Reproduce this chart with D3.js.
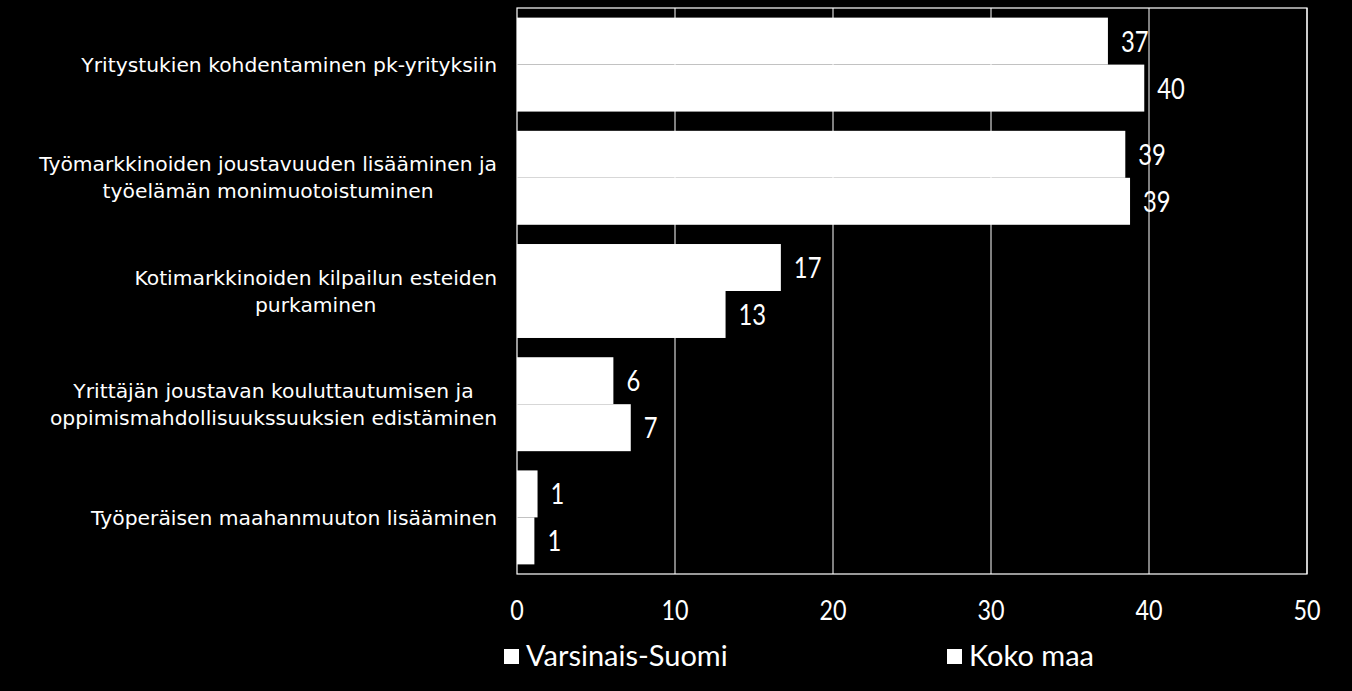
<!DOCTYPE html>
<html>
<head>
<meta charset="utf-8">
<script src="https://cdn.jsdelivr.net/npm/d3@7"></script>
<style>
  body { margin: 0; background: #000; }
  svg { display: block; }
</style>
</head>
<body>
<div id="chart"></div>
<script>
var categories = [
  ['Yritystukien kohdentaminen pk-yrityksiin'],
  ['Työmarkkinoiden joustavuuden lisääminen ja', 'työelämän monimuotoistuminen'],
  ['Kotimarkkinoiden kilpailun esteiden', 'purkaminen'],
  ['Yrittäjän joustavan kouluttautumisen ja', 'oppimismahdollisuukssuuksien edistäminen'],
  ['Työperäisen maahanmuuton lisääminen']
]
var seriesNames = ['Varsinais-Suomi', 'Koko maa']
var varsinaisSuomi = [37.4, 38.5, 16.7, 6.1, 1.3]
var kokoMaa = [39.7, 38.8, 13.2, 7.2, 1.1]
var ticks = [0, 10, 20, 30, 40, 50]

var width = 1352
var height = 691
var margin = { top: 8, left: 517, right: 45, bottom: 117 }
var innerW = width - margin.left - margin.right
var innerH = height - margin.top - margin.bottom

var svg = d3
  .select('#chart')
  .append('svg')
  .attr('width', width)
  .attr('height', height)
  .style('background', '#000')

var g = svg
  .append('g')
  .attr('transform', 'translate(' + margin.left + ',' + margin.top + ')')

var x = d3.scaleLinear().domain([0, 50]).range([0, innerW])

var y = d3
  .scaleBand()
  .domain(d3.range(categories.length))
  .range([0, innerH])
  .paddingInner(0.17)
  .paddingOuter(0.085)

var inner = d3
  .scaleBand()
  .domain([0, 1])
  .range([0, y.bandwidth()])

// gridlines
g.selectAll('.grid')
  .data(ticks.slice(1))
  .enter()
  .append('line')
  .attr('class', 'grid')
  .attr('x1', d => x(d))
  .attr('x2', d => x(d))
  .attr('y1', 0)
  .attr('y2', innerH)
  .attr('stroke', '#fff')
  .attr('stroke-width', 1)

g.append('rect')
  .attr('x', 0)
  .attr('y', 0)
  .attr('width', innerW)
  .attr('height', innerH)
  .attr('fill', 'none')
  .attr('stroke', '#fff')
  .attr('stroke-width', 1.2)

var series = [varsinaisSuomi, kokoMaa]
var numFont = "Lato, 'Open Sans', sans-serif"

// condensed-looking text: scale horizontally around the anchor point
function narrowText(sel, px, py, k) {
  return sel.attr('transform', function(d, i) {
    return 'translate(' + px(d, i) + ',' + py(d, i) + ') scale(' + k + ',1)'
  })
}

series.forEach(function(values, s) {
  g.selectAll('.bar-' + s)
    .data(values)
    .enter()
    .append('rect')
    .attr('class', 'bar-' + s)
    .attr('x', 0)
    .attr('y', (d, i) => y(i) + inner(s))
    .attr('width', d => x(d))
    .attr('height', inner.bandwidth())
    .attr('fill', '#fff')

  g.selectAll('.val-' + s)
    .data(values)
    .enter()
    .append('text')
    .attr('class', 'val-' + s)
    .call(narrowText, d => x(d) + 13, (d, i) => y(i) + inner(s) + inner.bandwidth() / 2, 0.82)
    .attr('dy', '0.36em')
    .attr('fill', '#fff')
    .attr('font-family', numFont)
    .attr('font-size', 29)
    .text(d => Math.round(d))
})

// x axis tick labels
g.selectAll('.tick-label')
  .data(ticks)
  .enter()
  .append('text')
  .attr('class', 'tick-label')
  .call(narrowText, d => x(d), () => innerH + 46, 0.88)
  .attr('text-anchor', 'middle')
  .attr('fill', '#fff')
  .attr('font-family', numFont)
  .attr('font-size', 26.5)
  .text(d => d)

// category labels, block right aligned, lines centred
var catRight = 497
var lineH = 27
categories.forEach(function(lines, i) {
  var t = svg
    .append('text')
    .attr('fill', '#fff')
    .attr('font-family', "'DejaVu Sans', sans-serif")
    .attr('font-size', 20.3)
    .attr('text-anchor', 'middle')
  var cy = margin.top + y(i) + y.bandwidth() / 2
  var spans = lines.map(function(line, k) {
    return t
      .append('tspan')
      .attr('y', cy + (k - (lines.length - 1) / 2) * lineH)
      .attr('dy', '0.35em')
      .text(line)
  })
  var maxW = d3.max(spans, sp => sp.node().getComputedTextLength())
  spans.forEach(sp => sp.attr('x', catRight - maxW / 2))
})

// legend
var legendX = [504, 947]
seriesNames.forEach(function(name, i) {
  svg
    .append('rect')
    .attr('x', legendX[i])
    .attr('y', 649)
    .attr('width', 15)
    .attr('height', 15)
    .attr('fill', '#fff')
  svg
    .append('text')
    .datum(name)
    .call(narrowText, () => legendX[i] + 22, () => 666, 1)
    .attr('fill', '#fff')
    .attr('font-family', numFont)
    .attr('font-size', 29)
    .text(name)
})
</script>
</body>
</html>
